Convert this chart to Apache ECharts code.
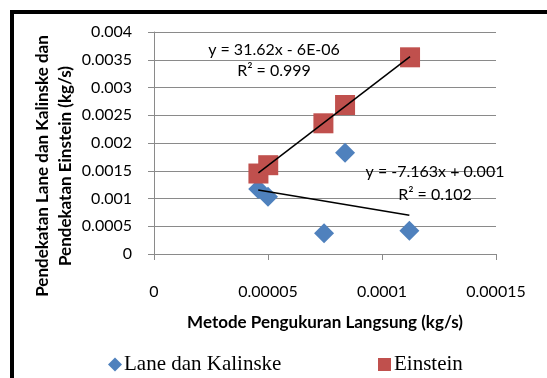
<!DOCTYPE html>
<html>
<head>
<meta charset="utf-8">
<script src="https://cdn.jsdelivr.net/npm/echarts@6/dist/echarts.min.js"></script>
<style>
html,body{margin:0;padding:0;background:#fff;}
#c{width:547px;height:378px;}
</style>
</head>
<body>
<div id="c"></div>
<script>
// Data
const laneX = [0.0000457, 0.0000500, 0.0000746, 0.0000838, 0.0001120];
const laneY = [0.00117, 0.00103, 0.000373, 0.001825, 0.00042];
const einX = [0.0000458, 0.0000501, 0.0000743, 0.0000838, 0.0001123];
const einY = [0.00145, 0.0016, 0.002355, 0.002685, 0.003544];
const seriesNames = ['Lane dan Kalinske', 'Einstein'];
const eqLane = ['y = -7.163x + 0.001', 'R² = 0.102'];
const eqEin = ['y = 31.62x - 6E-06', 'R² = 0.999'];
const xTitle = 'Metode Pengukuran Langsung (kg/s)';
const yTitle = ['Pendekatan Lane dan Kalinske dan', 'Pendekatan Einstein (kg/s)'];

function fit(xs, ys) {
  const n = xs.length;
  const mx = xs.reduce((a, b) => a + b, 0) / n;
  const my = ys.reduce((a, b) => a + b, 0) / n;
  let sxy = 0, sxx = 0;
  for (let i = 0; i < n; i++) { sxy += (xs[i] - mx) * (ys[i] - my); sxx += (xs[i] - mx) ** 2; }
  const m = sxy / sxx, b = my - m * mx;
  const x0 = Math.min(...xs), x1 = Math.max(...xs);
  return [[x0, m * x0 + b], [x1, m * x1 + b]];
}
const zip = (a, b) => a.map((v, i) => [v, b[i]]);

const chart = echarts.init(document.getElementById('c'), null, {renderer: 'canvas'});
const gray = '#8a8a8a';
const tickFont = {fontFamily: 'Lato', fontSize: 16, color: '#000'};
chart.setOption({
  animation: false,
  grid: {left: 154, right: 51, top: 32, bottom: 124},
  xAxis: {
    type: 'value', min: 0, max: 0.00015, interval: 0.00005,
    name: xTitle, nameLocation: 'middle', nameGap: 60,
    nameTextStyle: {fontFamily: 'Lato', fontWeight: 'bold', fontSize: 17, color: '#000'},
    axisLine: {show: true, lineStyle: {color: gray}},
    axisTick: {show: true, length: 6, lineStyle: {color: gray}},
    axisLabel: Object.assign({margin: 30}, tickFont),
    splitLine: {show: false}
  },
  yAxis: {
    type: 'value', min: 0, max: 0.004, interval: 0.0005,
    axisLine: {show: true, lineStyle: {color: gray}},
    axisTick: {show: true, length: 6, lineStyle: {color: gray}},
    axisLabel: Object.assign({margin: 22}, tickFont),
    splitLine: {show: true, lineStyle: {color: gray, width: 1}}
  },
  legend: [
    {data: [{name: seriesNames[0], icon: 'diamond'}], left: 108, top: 354, padding: 0, itemWidth: 14, itemHeight: 14,
     textStyle: {fontFamily: 'Liberation Serif', fontSize: 21, color: '#000', padding: [0,0,0,-3]}},
    {data: [{name: seriesNames[1], icon: 'rect'}], left: 378, top: 354, padding: 0, itemWidth: 13, itemHeight: 13,
     textStyle: {fontFamily: 'Liberation Serif', fontSize: 21, color: '#000', padding: [0,0,0,-2]}}
  ],
  series: [
    {name: seriesNames[0], type: 'scatter', symbol: 'diamond', symbolSize: 20,
     itemStyle: {color: '#4F81BD', opacity: 1}, data: zip(laneX, laneY), z: 2},
    {name: seriesNames[1], type: 'scatter', symbol: 'rect', symbolSize: 20,
     itemStyle: {color: '#C0504D', opacity: 1}, data: zip(einX, einY), z: 3},
    {type: 'line', data: fit(laneX, laneY), symbol: 'none', lineStyle: {color: '#000', width: 1.5}, z: 4, silent: true},
    {type: 'line', data: fit(einX, einY), symbol: 'none', lineStyle: {color: '#000', width: 1.5}, z: 4, silent: true}
  ],
  graphic: [
    {type: 'rect', shape: {x: 12, y: 12, width: 620, height: 420}, style: {fill: 'none', stroke: '#000', lineWidth: 4}, z: 10},
    {type: 'text', x: 54, y: 166, rotation: Math.PI / 2,
     style: {text: yTitle.join('\n'), textAlign: 'center', textVerticalAlign: 'middle', lineHeight: 23,
             font: 'bold 17px Lato', fill: '#000'}},
    {type: 'text', x: 274, y: 60, style: {text: eqEin.join('\n'), textAlign: 'center', textVerticalAlign: 'middle', lineHeight: 21, font: '16px Lato', fill: '#000'}, z: 20},
    {type: 'text', x: 435, y: 183, style: {text: eqLane.join('\n'), textAlign: 'center', textVerticalAlign: 'middle', lineHeight: 23, font: '16px Lato', fill: '#000'}, z: 20}
  ]
});
</script>
</body>
</html>
